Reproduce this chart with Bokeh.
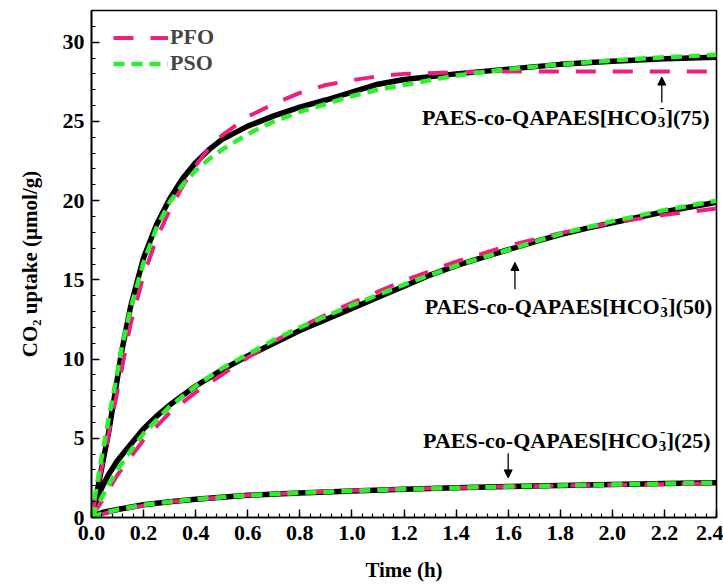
from bokeh.plotting import figure
from bokeh.models import (Range1d, Arrow, NormalHead, Legend, LegendItem, FixedTicker,
                          NumeralTickFormatter, ColumnDataSource, AllLabels)
from bokeh.core.properties import value
from bokeh.embed import file_html
from bokeh.resources import INLINE

# ---------------- data ----------------
# sample 75
t_exp75 = [0, 0.02, 0.04, 0.065, 0.09, 0.115, 0.15, 0.2, 0.25, 0.3, 0.35, 0.4, 0.45, 0.5,
           0.6, 0.7, 0.8, 0.9, 1.0, 1.1, 1.2, 1.4, 1.6, 1.8, 2.0, 2.2, 2.4]
q_exp75 = [0, 1.5, 3.2, 5.3, 7.8, 10.4, 13.3, 16.4, 18.5, 20.1, 21.4, 22.4, 23.2, 23.85,
           24.7, 25.35, 25.9, 26.35, 26.85, 27.35, 27.65, 28.0, 28.3, 28.6, 28.8, 28.95, 29.05]
t_pfo75 = [0, 0.02, 0.05, 0.1, 0.15, 0.2, 0.25, 0.3, 0.35, 0.4, 0.45, 0.5, 0.6, 0.7, 0.8,
           0.9, 1.0, 1.1, 1.2, 1.4, 1.6, 2.0, 2.4]
q_pfo75 = [0, 1.6, 4.0, 8.0, 12.2, 15.3, 17.6, 19.4, 20.9, 22.2, 23.3, 24.1, 25.3, 26.1, 26.8,
           27.3, 27.6, 27.85, 28.0, 28.1, 28.15, 28.15, 28.15]
t_pso75 = [0, 0.02, 0.04, 0.06, 0.085, 0.115, 0.15, 0.2, 0.25, 0.3, 0.35, 0.4, 0.45, 0.5,
           0.6, 0.7, 0.8, 0.9, 1.0, 1.1, 1.2, 1.4, 1.6, 1.8, 2.0, 2.2, 2.4]
q_pso75 = [0, 2.0, 3.9, 5.7, 7.9, 10.6, 13.2, 16.1, 18.3, 19.9, 21.0, 21.9, 22.6, 23.2,
           24.2, 25.0, 25.6, 26.1, 26.6, 27.0, 27.3, 27.9, 28.3, 28.6, 28.85, 29.05, 29.2]

# sample 50
t_exp50 = [0, 0.015, 0.04, 0.065, 0.1, 0.15, 0.2, 0.25, 0.3, 0.35, 0.4, 0.5, 0.6, 0.7, 0.8,
           0.9, 1.0, 1.1, 1.2, 1.3, 1.4, 1.5, 1.6, 1.7, 1.8, 1.9, 2.0, 2.1, 2.2, 2.3, 2.4]
q_exp50 = [0, 0.9, 1.9, 2.7, 3.6, 4.6, 5.6, 6.4, 7.1, 7.7, 8.3, 9.3, 10.2, 11.0, 11.8,
           12.5, 13.2, 13.9, 14.6, 15.3, 15.9, 16.4, 16.9, 17.4, 17.85, 18.25, 18.6, 18.95,
           19.3, 19.6, 19.9]
t_pfo50 = [0, 0.05, 0.1, 0.2, 0.3, 0.4, 0.5, 0.6, 0.7, 0.8, 0.9, 1.0, 1.2, 1.4, 1.6, 1.8,
           2.0, 2.2, 2.4]
q_pfo50 = [0, 1.3, 2.7, 4.9, 6.6, 7.9, 9.0, 10.1, 11.1, 12.0, 12.8, 13.55, 14.95, 16.15, 17.15,
           17.95, 18.6, 19.1, 19.5]
t_pso50 = [0, 0.05, 0.1, 0.15, 0.2, 0.3, 0.4, 0.5, 0.6, 0.7, 0.8, 0.9, 1.0, 1.2, 1.4, 1.6,
           1.8, 2.0, 2.2, 2.4]
q_pso50 = [0, 1.6, 3.0, 4.2, 5.3, 7.0, 8.3, 9.4, 10.3, 11.2, 12.0, 12.7, 13.4, 14.7, 15.9,
           16.9, 17.9, 18.7, 19.4, 20.0]

# sample 25
t_exp25 = [0, 0.02, 0.05, 0.1, 0.2, 0.3, 0.4, 0.6, 0.8, 1.0, 1.2, 1.4, 1.6, 1.8, 2.0, 2.2, 2.4]
q_exp25 = [0, 0.2, 0.35, 0.5, 0.8, 1.0, 1.15, 1.4, 1.55, 1.68, 1.78, 1.87, 1.95, 2.02, 2.08,
           2.14, 2.2]
t_pfo25 = [0, 0.05, 0.1, 0.2, 0.3, 0.4, 0.6, 0.8, 1.0, 1.2, 1.4, 1.6, 1.8, 2.0, 2.2, 2.4]
q_pfo25 = [0, 0.25, 0.45, 0.75, 0.98, 1.15, 1.4, 1.57, 1.7, 1.8, 1.88, 1.95, 2.01, 2.06, 2.1, 2.14]
t_pso25 = [0, 0.05, 0.1, 0.2, 0.3, 0.4, 0.6, 0.8, 1.0, 1.2, 1.4, 1.6, 1.8, 2.0, 2.2, 2.4]
q_pso25 = [0, 0.3, 0.5, 0.8, 1.0, 1.16, 1.4, 1.56, 1.68, 1.78, 1.87, 1.95, 2.02, 2.08, 2.14, 2.2]

# annotations
label_head = ["PAES-co-QAPAES[HCO", "PAES-co-QAPAES[HCO", "PAES-co-QAPAES[HCO"]
label_tail = ["](75)", "](50)", "](25)"]
label_x = [2.172, 2.182, 2.176]
label_y = [25.25, 13.3, 4.85]
arrow_x = [2.19, 1.626, 1.60]
arrow_y0 = [26.2, 14.4, 4.05]
arrow_y1 = [27.8, 16.1, 2.5]

x_major = [0.0, 0.2, 0.4, 0.6, 0.8, 1.0, 1.2, 1.4, 1.6, 1.8, 2.0, 2.2, 2.4]
x_minor = [i * 0.04 for i in range(61)]
y_major = [0, 5, 10, 15, 20, 25, 30]
y_minor = list(range(0, 33))

# ---------------- styles ----------------
FONT = "Liberation Serif"
PINK = "#EE1E7E"
GREEN = "#2EEE2E"

p = figure(width=723, height=585, output_backend="svg", toolbar_location=None,
           x_range=Range1d(0, 2.4), y_range=Range1d(0, 32),
           min_border_left=91, min_border_right=7, min_border_top=10, min_border_bottom=68)
p.background_fill_color = "white"
p.border_fill_color = "white"
p.outline_line_color = "black"
p.outline_line_width = 1.6
p.xgrid.visible = False
p.ygrid.visible = False

for ax in (p.xaxis[0], p.yaxis[0]):
    ax.axis_line_width = 1.6
    ax.axis_line_color = "black"
    ax.major_tick_in = 8
    ax.major_tick_out = 0
    ax.minor_tick_in = 4
    ax.minor_tick_out = 0
    ax.major_tick_line_width = 1.4
    ax.minor_tick_line_width = 1.2
    ax.major_tick_line_color = "black"
    ax.minor_tick_line_color = "black"
    ax.major_label_text_font = FONT
    ax.major_label_text_font_style = "bold"
    ax.major_label_text_font_size = "22px"
    ax.major_label_text_color = "black"
    ax.axis_label_text_font = FONT
    ax.axis_label_text_font_style = "bold"
    ax.axis_label_text_font_size = "21px"
    ax.axis_label_text_color = "black"
    ax.major_label_policy = AllLabels()

p.xaxis.ticker = FixedTicker(ticks=x_major, minor_ticks=x_minor)
p.yaxis.ticker = FixedTicker(ticks=y_major, minor_ticks=y_minor)
p.xaxis.formatter = NumeralTickFormatter(format="0.0")
p.xaxis.axis_label = "Time (h)"
p.yaxis.axis_label = "CO\u2082 uptake (\u00b5mol/g)"
p.xaxis.major_label_standoff = 8
p.xaxis.axis_label_standoff = 15
p.yaxis.major_label_standoff = 7
p.yaxis.axis_label_standoff = 18

# experimental curves
for t, q in ((t_exp75, q_exp75), (t_exp50, q_exp50), (t_exp25, q_exp25)):
    p.line(t, q, line_color="black", line_width=5.5, line_join="round")

# PFO fits
pfo_r = []
for t, q in ((t_pfo75, q_pfo75), (t_pfo50, q_pfo50), (t_pfo25, q_pfo25)):
    pfo_r.append(p.line(t, q, line_color=PINK, line_width=4, line_dash="20 17"))

# PSO fits
pso_r = []
for t, q in ((t_pso75, q_pso75), (t_pso50, q_pso50), (t_pso25, q_pso25)):
    pso_r.append(p.line(t, q, line_color=GREEN, line_width=4.5, line_dash="11 7"))

# annotation texts
src = ColumnDataSource(dict(x=label_x, y=label_y, head=label_head, tail=label_tail,
                            sub=["3"] * 3, sup=["-"] * 3))
common = dict(text_font=value(FONT), text_font_style="bold", text_color="black",
              text_baseline="alphabetic")
p.text(x="x", y="y", text="head", source=src, text_align="right",
       text_font_size="22px", **common)
p.text(x="x", y="y", text="sub", source=src, text_align="left", x_offset=0.5, y_offset=5,
       text_font_size="15px", **common)
p.text(x="x", y="y", text="sup", source=src, text_align="left", x_offset=2, y_offset=-10,
       text_font_size="15px", **common)
p.text(x="x", y="y", text="tail", source=src, text_align="left", x_offset=8.5,
       text_font_size="22px", **common)

for xa, ya, yb in zip(arrow_x, arrow_y0, arrow_y1):
    p.add_layout(Arrow(x_start=xa, y_start=ya, x_end=xa, y_end=yb, line_width=1.3,
                       line_color="black",
                       end=NormalHead(size=8, fill_color="black", line_color="black")))

legend = Legend(items=[LegendItem(label="PFO", renderers=[pfo_r[0]]),
                       LegendItem(label="PSO", renderers=[pso_r[0]])],
                location=(22, 441), border_line_color=None, background_fill_alpha=0,
                label_text_font=FONT, label_text_font_style="bold",
                label_text_font_size="22px", glyph_width=55, glyph_height=25,
                label_height=25, label_standoff=2, spacing=0, padding=0, margin=0)
p.add_layout(legend)

open("out.html", "w").write(file_html(p, INLINE))
